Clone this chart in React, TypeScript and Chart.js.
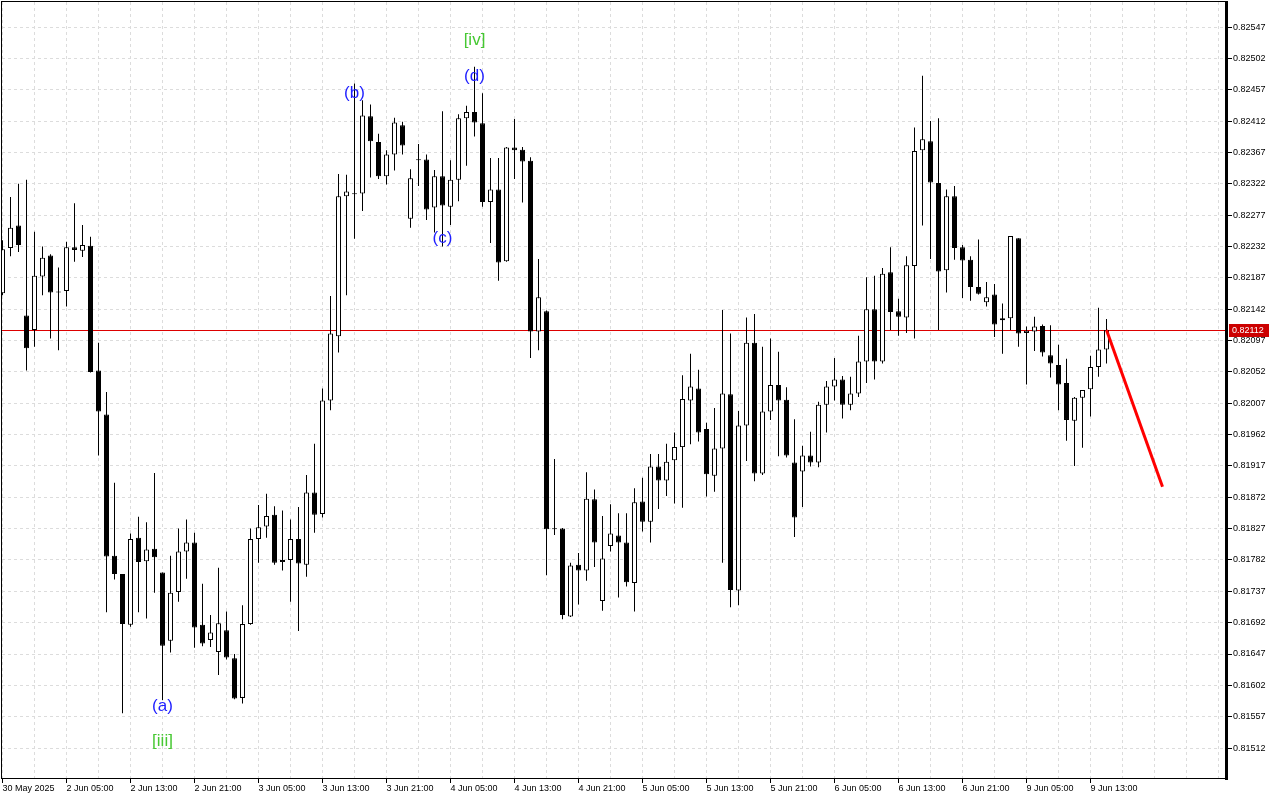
import React, { useEffect, useRef } from 'react';
import { Chart, registerables } from 'chart.js';

Chart.register(...registerables);

// ---- time axis (H1 bars, label every 8 bars) ----
const timeLabels = [
  '30 May 2025', '2 Jun 05:00', '2 Jun 13:00', '2 Jun 21:00', '3 Jun 05:00', '3 Jun 13:00',
  '3 Jun 21:00', '4 Jun 05:00', '4 Jun 13:00', '4 Jun 21:00', '5 Jun 05:00', '5 Jun 13:00',
  '5 Jun 21:00', '6 Jun 05:00', '6 Jun 13:00', '6 Jun 21:00', '9 Jun 05:00', '9 Jun 13:00',
];

// ---- price axis ticks ----
const priceTicks = [
  0.81512, 0.81557, 0.81602, 0.81647, 0.81692, 0.81737, 0.81782, 0.81827, 0.81872, 0.81917,
  0.81962, 0.82007, 0.82052, 0.82097, 0.82142, 0.82187, 0.82232, 0.82277, 0.82322, 0.82367,
  0.82412, 0.82457, 0.82502, 0.82547,
];

// ---- OHLC ----
const opens = [
  0.82165, 0.82230, 0.82262, 0.82133, 0.82112, 0.82189, 0.82219, 0.82167, 0.82168, 0.82231,
  0.82226, 0.82233, 0.82054, 0.81991, 0.81788, 0.81762, 0.81689, 0.81814, 0.81780, 0.81798,
  0.81764, 0.81666, 0.81736, 0.81794, 0.81807, 0.81689, 0.81667, 0.81650, 0.81681, 0.81641,
  0.81584, 0.81690, 0.81812, 0.81830, 0.81847, 0.81779, 0.81782, 0.81812, 0.81775, 0.81879,
  0.81848, 0.82011, 0.82103, 0.82304, 0.82308, 0.82308, 0.82419, 0.82382, 0.82333, 0.82364,
  0.82406, 0.82272, 0.82357, 0.82357, 0.82288, 0.82333, 0.82289, 0.82328, 0.82416, 0.82425,
  0.82409, 0.82296, 0.82314, 0.82211, 0.82374, 0.82371, 0.82355, 0.82110, 0.82139, 0.81827,
  0.81827, 0.81701, 0.81775, 0.81767, 0.81869, 0.81723, 0.81802, 0.81817, 0.81807, 0.81749,
  0.81866, 0.81837, 0.81916, 0.81896, 0.81925, 0.81944, 0.82011, 0.82028, 0.81970, 0.81903,
  0.81942, 0.82020, 0.81738, 0.81975, 0.82094, 0.81906, 0.81995, 0.82033, 0.82012, 0.81922,
  0.81909, 0.81932, 0.81922, 0.82005, 0.82031, 0.82041, 0.82005, 0.82021, 0.82067, 0.82142,
  0.82067, 0.82195, 0.82139, 0.82130, 0.82204, 0.82370, 0.82383, 0.82323, 0.82198, 0.82304,
  0.82231, 0.82213, 0.82174, 0.82152, 0.82163, 0.82126, 0.82129, 0.82244, 0.82108, 0.82110,
  0.82118, 0.82076, 0.82062, 0.82036, 0.81982, 0.82015, 0.82027, 0.82059, 0.82084,
];
const highs = [
  0.82241, 0.82303, 0.82322, 0.82328, 0.82253, 0.82232, 0.82221, 0.82202, 0.82239, 0.82294,
  0.82263, 0.82246, 0.82094, 0.82023, 0.81893, 0.81762, 0.81820, 0.81844, 0.81836, 0.81907,
  0.81764, 0.81788, 0.81827, 0.81840, 0.81821, 0.81748, 0.81703, 0.81771, 0.81708, 0.81647,
  0.81717, 0.81827, 0.81861, 0.81877, 0.81859, 0.81853, 0.81840, 0.81858, 0.81904, 0.81949,
  0.82028, 0.82161, 0.82336, 0.82335, 0.82466, 0.82442, 0.82436, 0.82394, 0.82370, 0.82417,
  0.82411, 0.82343, 0.82379, 0.82364, 0.82342, 0.82426, 0.82356, 0.82422, 0.82434, 0.82490,
  0.82452, 0.82359, 0.82359, 0.82375, 0.82415, 0.82375, 0.82360, 0.82214, 0.82140, 0.81927,
  0.81828, 0.81778, 0.81792, 0.81908, 0.81883, 0.81845, 0.81862, 0.81849, 0.81849, 0.81885,
  0.81900, 0.81934, 0.81934, 0.81949, 0.81965, 0.82047, 0.82078, 0.82055, 0.81979, 0.82000,
  0.82141, 0.82107, 0.81996, 0.82130, 0.82135, 0.82088, 0.82100, 0.82081, 0.82030, 0.81984,
  0.81946, 0.81966, 0.82009, 0.82039, 0.82072, 0.82046, 0.82045, 0.82104, 0.82188, 0.82190,
  0.82201, 0.82231, 0.82157, 0.82218, 0.82403, 0.82477, 0.82412, 0.82416, 0.82314, 0.82319,
  0.82234, 0.82218, 0.82242, 0.82181, 0.82178, 0.82150, 0.82247, 0.82244, 0.82117, 0.82131,
  0.82120, 0.82119, 0.82091, 0.82071, 0.82016, 0.82026, 0.82075, 0.82144, 0.82128,
];
const lows = [
  0.82162, 0.82218, 0.82224, 0.82054, 0.82088, 0.82162, 0.82100, 0.82083, 0.82146, 0.82210,
  0.82217, 0.82051, 0.81932, 0.81707, 0.81754, 0.81562, 0.81686, 0.81707, 0.81698, 0.81735,
  0.81581, 0.81649, 0.81722, 0.81755, 0.81656, 0.81658, 0.81657, 0.81617, 0.81639, 0.81582,
  0.81576, 0.81689, 0.81778, 0.81814, 0.81775, 0.81767, 0.81722, 0.81680, 0.81758, 0.81821,
  0.81843, 0.81997, 0.82080, 0.82162, 0.82243, 0.82283, 0.82331, 0.82329, 0.82321, 0.82341,
  0.82364, 0.82259, 0.82319, 0.82270, 0.82252, 0.82232, 0.82263, 0.82297, 0.82348, 0.82390,
  0.82289, 0.82237, 0.82183, 0.82210, 0.82329, 0.82295, 0.82072, 0.82083, 0.81760, 0.81818,
  0.81697, 0.81700, 0.81718, 0.81752, 0.81772, 0.81709, 0.81794, 0.81728, 0.81744, 0.81708,
  0.81823, 0.81807, 0.81855, 0.81874, 0.81863, 0.81857, 0.81948, 0.81952, 0.81873, 0.81880,
  0.81778, 0.81714, 0.81717, 0.81924, 0.81895, 0.81904, 0.81983, 0.81931, 0.81929, 0.81815,
  0.81858, 0.81916, 0.81915, 0.81965, 0.82011, 0.81985, 0.81997, 0.82016, 0.82036, 0.82041,
  0.82064, 0.82112, 0.82104, 0.82108, 0.82100, 0.82262, 0.82214, 0.82112, 0.82166, 0.82213,
  0.82158, 0.82154, 0.82163, 0.82146, 0.82102, 0.82078, 0.82112, 0.82088, 0.82034, 0.82082,
  0.82074, 0.82044, 0.81997, 0.81953, 0.81917, 0.81943, 0.81988, 0.82045, 0.82064,
];
const closes = [
  0.82228, 0.82259, 0.82234, 0.82086, 0.82190, 0.82216, 0.82166, 0.82166, 0.82231, 0.82227,
  0.82234, 0.82052, 0.81995, 0.81787, 0.81762, 0.81690, 0.81812, 0.81779, 0.81797, 0.81786,
  0.81659, 0.81735, 0.81794, 0.81807, 0.81685, 0.81662, 0.81678, 0.81691, 0.81642, 0.81583,
  0.81690, 0.81812, 0.81829, 0.81845, 0.81778, 0.81782, 0.81812, 0.81777, 0.81879, 0.81847,
  0.82011, 0.82107, 0.82304, 0.82311, 0.82307, 0.82420, 0.82383, 0.82333, 0.82364, 0.82410,
  0.82377, 0.82330, 0.82356, 0.82285, 0.82333, 0.82291, 0.82328, 0.82416, 0.82425, 0.82410,
  0.82296, 0.82314, 0.82209, 0.82374, 0.82370, 0.82354, 0.82110, 0.82159, 0.81826, 0.81826,
  0.81703, 0.81774, 0.81767, 0.81870, 0.81807, 0.81784, 0.81820, 0.81807, 0.81750, 0.81865,
  0.81837, 0.81916, 0.81896, 0.81923, 0.81944, 0.82013, 0.82031, 0.81965, 0.81905, 0.81942,
  0.82021, 0.81739, 0.81975, 0.82094, 0.81906, 0.81995, 0.82033, 0.82011, 0.81932, 0.81843,
  0.81932, 0.81922, 0.82005, 0.82031, 0.82041, 0.82005, 0.82021, 0.82067, 0.82142, 0.82067,
  0.82193, 0.82138, 0.82131, 0.82205, 0.82369, 0.82386, 0.82324, 0.82196, 0.82304, 0.82230,
  0.82212, 0.82174, 0.82164, 0.82159, 0.82120, 0.82129, 0.82247, 0.82107, 0.82111, 0.82117,
  0.82080, 0.82064, 0.82034, 0.81983, 0.82015, 0.82026, 0.82059, 0.82084, 0.82112,
];

// ---- bid line, forecast arrow, wave labels ----
const bidPrice = 0.82112;
const forecastBars = [138, 145];
const forecastPrices = [0.82112, 0.81887];
const waveTexts = ['(a)', '[iii]', '(b)', '(c)', '(d)', '[iv]'];
const waveBars = [20, 20, 44, 55, 59, 59];
const wavePrices = [0.81572, 0.81521, 0.82452, 0.82244, 0.82477, 0.82528];
const waveColors = ['#1e1eff', '#46c832', '#1e1eff', '#1e1eff', '#1e1eff', '#46c832'];

const AXIS_FAMILY = '"Liberation Sans", Arial, sans-serif';

export default function App() {
  const ref = useRef<HTMLCanvasElement | null>(null);

  useEffect(() => {
    const canvas = ref.current;
    if (!canvas) return;

    const bodies = opens.map((o, i) => ({ x: i, y: [o, closes[i]] }));
    const wicks = lows.map((l, i) => ({ x: i, y: [l, highs[i]] }));
    const bodyColors = opens.map((o, i) => (closes[i] > o ? '#ffffff' : '#000000'));
    const forecast = forecastBars.map((b, i) => ({ x: b, y: forecastPrices[i] }));

    const overlay = {
      id: 'mtOverlay',
      beforeDatasetsDraw(chart: any) {
        const { ctx, chartArea, scales } = chart;
        const py = Math.round(scales.y.getPixelForValue(bidPrice)) + 0.5;
        ctx.save();
        ctx.strokeStyle = '#dd0000';
        ctx.lineWidth = 1;
        ctx.beginPath();
        ctx.moveTo(chartArea.left, py);
        ctx.lineTo(chartArea.right, py);
        ctx.stroke();
        ctx.restore();
      },
      afterDraw(chart: any) {
        const { ctx, chartArea, scales } = chart;
        const xs = scales.x;
        const ys = scales.y;
        ctx.save();
        // wave labels
        ctx.textAlign = 'center';
        ctx.textBaseline = 'middle';
        ctx.font = `17px ${AXIS_FAMILY}`;
        waveTexts.forEach((t, i) => {
          ctx.fillStyle = waveColors[i];
          ctx.fillText(t, xs.getPixelForValue(waveBars[i]), ys.getPixelForValue(wavePrices[i]));
        });
        // frame
        const l = chartArea.left, t = chartArea.top, r = chartArea.right, b = chartArea.bottom;
        ctx.fillStyle = '#000000';
        ctx.fillRect(l - 1, t - 1, r - l + 1, 1);
        ctx.fillRect(l - 1, t - 1, 1, b - t + 2);
        ctx.fillRect(l - 1, b, r - l + 1, 1);
        ctx.fillRect(r - 1, t - 1, 3, b - t + 3);
        // bid price box
        const py = Math.round(ys.getPixelForValue(bidPrice));
        ctx.fillStyle = '#cc0000';
        ctx.fillRect(r + 3, py - 6, 40, 13);
        ctx.fillStyle = '#ffffff';
        ctx.font = `9px ${AXIS_FAMILY}`;
        ctx.textAlign = 'left';
        ctx.textBaseline = 'middle';
        ctx.fillText(bidPrice.toFixed(5), r + 6, py + 0.5);
        ctx.restore();
      },
    };

    const xTickValues: number[] = [];
    for (let v = 0; v <= 152; v += 4) xTickValues.push(v);

    const isLabeled = (v: number) => v % 8 === 0 && v / 8 < timeLabels.length;

    const chart = new Chart(canvas, {
      type: 'bar',
      data: {
        datasets: [
          {
            type: 'line',
            data: forecast,
            borderColor: '#ff0000',
            borderWidth: 3,
            pointRadius: 0,
            fill: false,
            tension: 0,
          } as any,
          {
            type: 'bar',
            data: bodies as any,
            backgroundColor: bodyColors,
            borderColor: '#000000',
            borderWidth: 1,
            borderSkipped: false,
            barThickness: 5,
            grouped: false,
            minBarLength: 1,
            inflateAmount: 0,
          } as any,
          {
            type: 'bar',
            data: wicks as any,
            backgroundColor: '#000000',
            borderWidth: 0,
            barThickness: 1,
            grouped: false,
            inflateAmount: 0,
          } as any,
        ],
      },
      options: {
        responsive: false,
        animation: false,
        devicePixelRatio: 1,
        events: [],
        layout: { padding: { left: 2, top: 2, right: 0, bottom: 0 } },
        plugins: { legend: { display: false }, tooltip: { enabled: false } },
        scales: {
          x: {
            type: 'linear',
            bounds: 'data',
            min: -0.0625,
            max: 152.9375,
            offset: false,
            afterBuildTicks: (s: any) => {
              s.ticks = xTickValues.map((v) => ({ value: v }));
            },
            afterFit: (s: any) => {
              s.height = 22;
              s.paddingLeft = 0;
              s.paddingRight = 0;
            },
            ticks: {
              autoSkip: false,
              maxRotation: 0,
              minRotation: 0,
              align: 'start',
              padding: 0,
              color: '#000000',
              font: { family: AXIS_FAMILY, size: 9 },
              callback: (value: any) => {
                const v = Math.round(Number(value));
                return isLabeled(v) ? timeLabels[v / 8] : '';
              },
            },
            grid: {
              offset: false,
              color: '#dcdcdc',
              lineWidth: 1,
              drawTicks: true,
              tickLength: 5,
              tickWidth: 1,
              tickColor: (ctx: any) =>
                ctx.tick && isLabeled(Math.round(ctx.tick.value)) ? '#000000' : 'rgba(0,0,0,0)',
            },
            border: { display: false, dash: [3, 3] },
          } as any,
          y: {
            type: 'linear',
            position: 'right',
            bounds: 'data',
            min: 0.81469,
            max: 0.82583,
            afterBuildTicks: (s: any) => {
              s.ticks = priceTicks.map((v) => ({ value: v }));
            },
            afterFit: (s: any) => {
              s.width = 54;
              s.paddingTop = 0;
              s.paddingBottom = 0;
            },
            ticks: {
              padding: 1,
              color: '#000000',
              font: { family: AXIS_FAMILY, size: 9 },
              callback: (value: any) => Number(value).toFixed(5),
            },
            grid: {
              color: '#dcdcdc',
              lineWidth: 1,
              drawTicks: true,
              tickLength: 6,
              tickWidth: 1,
              tickColor: '#000000',
            },
            border: { display: false, dash: [3, 3] },
          } as any,
        },
      },
      plugins: [overlay],
    });

    return () => chart.destroy();
  }, []);

  return (
    <div style={{ position: 'absolute', left: 0, top: 0, width: 1280, height: 800, background: '#ffffff' }}>
      <canvas ref={ref} width={1280} height={800} style={{ display: 'block' }} />
    </div>
  );
}
